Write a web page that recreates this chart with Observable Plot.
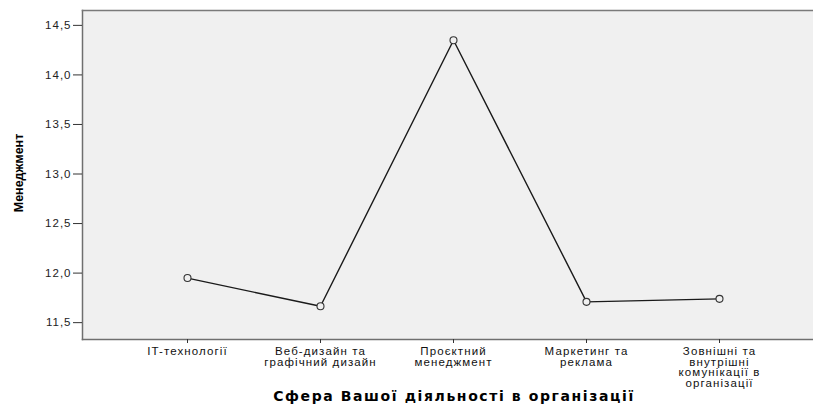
<!DOCTYPE html>
<html>
<head>
<meta charset="utf-8">
<script src="https://cdn.jsdelivr.net/npm/d3@7"></script>
<script src="https://cdn.jsdelivr.net/npm/@observablehq/plot@0.6"></script>
<style>
  html, body { margin: 0; padding: 0; background: #fff; }
  g[aria-label="x-axis tick label"] text { letter-spacing: 1.1px; }
  g[aria-label="y-axis tick label"] text { letter-spacing: 1px; }
  g.xtitle text { letter-spacing: 1.6px; }
</style>
</head>
<body>
<div id="chart"></div>
<script>
const categories = ["IT", "Web", "PM", "Marketing", "Comms"];
const tickLabels = [
  "IT-технології",
  "Веб-дизайн та\nграфічний дизайн",
  "Проєктний\nменеджмент",
  "Маркетинг та\nреклама",
  "Зовнішні та\nвнутрішні\nкомунікації в\nорганізації"
];
const values = [11.95, 11.665, 14.35, 11.71, 11.74];
const yTicks = [11.5, 12.0, 12.5, 13.0, 13.5, 14.0, 14.5];
const yLabel = "Менеджмент";
const xLabel = "Сфера Вашої діяльності в організації";

const data = categories.map((c, i) => ({cat: c, value: values[i]}));
const labelOf = new Map(categories.map((c, i) => [c, tickLabels[i]]));

const chart = Plot.plot({
  width: 813,
  height: 407,
  marginLeft: 82,
  marginRight: 0,
  marginTop: 10,
  marginBottom: 68,
  style: {background: "#fff", fontFamily: "Liberation Sans, Arial, sans-serif", color: "#111"},
  x: {type: "point", domain: categories, range: [186, 720], padding: 0},
  y: {domain: [11.33, 14.65]},
  marks: [
    Plot.frame({fill: "#f0f0f0", stroke: null}),
    Plot.frame({anchor: "left", stroke: "#6f6f6f", strokeWidth: 1.5}),
    Plot.frame({anchor: "top", stroke: "#7a7a7a", strokeWidth: 1.5}),
    Plot.frame({anchor: "bottom", stroke: "#6f6f6f", strokeWidth: 1.5}),
    Plot.axisY({ticks: yTicks, tickFormat: d => d.toFixed(1).replace(".", ","), tickSize: 9, tickPadding: 2, fontSize: 11.5, label: null, stroke: "#333", fill: "#222"}),
    Plot.axisX({tickFormat: d => labelOf.get(d), tickSize: 4, tickPadding: 4, fontSize: 11.5, lineHeight: 0.92, label: null, stroke: "#333", fill: "#111"}),
    Plot.line(data, {x: "cat", y: "value", stroke: "#1a1a1a", strokeWidth: 1.4}),
    Plot.dot(data, {x: "cat", y: "value", r: 3.5, stroke: "#333", strokeWidth: 1.1, fill: "#f0f0f0"}),
    Plot.text([yLabel], {frameAnchor: "left", textAnchor: "middle", text: d => d, rotate: -90, dx: -64, dy: -2, fontSize: 12.5, fontWeight: "bold", fill: "#000"}),
    Plot.text([xLabel], {frameAnchor: "bottom", textAnchor: "middle", text: d => d, dx: 6, dy: 61, fontSize: 14, fontWeight: "bold", fill: "#000", fontFamily: "DejaVu Sans, sans-serif"})
  ]
});
d3.select(chart).selectAll('g[aria-label="text"]').filter((d, i, n) => i === n.length - 1).attr("class", "xtitle");
document.getElementById("chart").appendChild(chart);
</script>
</body>
</html>
